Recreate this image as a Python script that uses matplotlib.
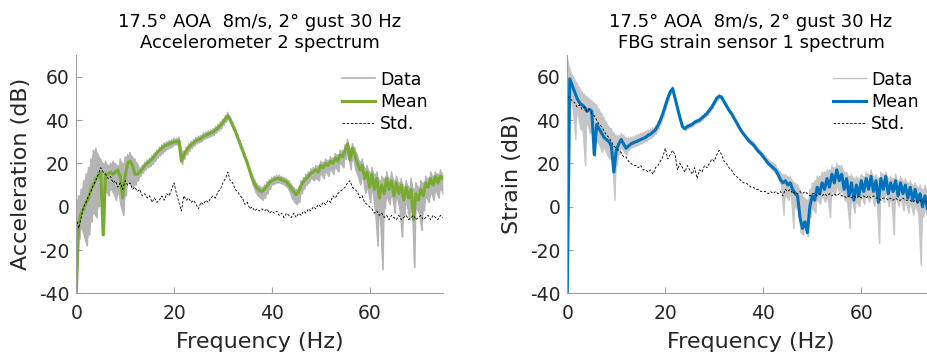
import numpy as np
import matplotlib
matplotlib.use("Agg")
import matplotlib.pyplot as plt

plt.rcParams["font.family"] = ["DejaVu Sans"]
plt.rcParams["axes.unicode_minus"] = False

# frequency grid, 0.5 Hz steps from 0 to 75 Hz
freq = np.arange(0, 75.5, 0.5)

# ---- accelerometer 2 (left panel), values in dB ----
acc_mean = [
    -40, -8, -3, -1, 2, 4, 8, 10, 13, 14,
    16, -13, 15, 15, 16, 15, 16, 17, 14, 4,
    14, 20, 21, 19, 15, 15, 16, 17.5, 19, 20,
    21, 22, 23.5, 25, 26, 27, 28, 28.5, 29, 29.5,
    30, 30, 30.5, 21, 24, 26, 27.5, 28.5, 29.5, 30.5,
    31, 31.5, 32.5, 33, 33.5, 34, 34.5, 35.5, 36.5, 37.5,
    39, 40.5, 42, 40, 37.5, 35, 32, 29, 26, 23,
    20, 16.5, 13, 10.5, 8.5, 7.5, 7, 8, 9.5, 11,
    12, 12.5, 13, 13, 12.5, 12, 11.5, 10, 8.5, 7,
    5.5, 7, 10, 11.5, 13, 14, 15.5, 16, 17, 16,
    19, 18, 20, 19, 21, 20, 22.5, 21, 24, 23,
    26, 29, 21.5, 27, 24, 20, 17, 19, 13, 16,
    9, 15, 8, 13, 4, 10, 6, 13, 8, 12,
    5, 11, 6, 10, 3, 9, 4, 8, -6, 6,
    3, 8, 5, 11, 9, 13, 10, 14, 11, 14,
    13,
]
acc_data_hi = [
    3, 5, 8, 12, 15, 18, 22, 26, 27, 24,
    22, 20, 21, 19, 20, 21, 20, 19, 22, 20,
    23, 24, 25, 23, 22, 20, 18, 19, 20.5, 21.5,
    22.5, 23.5, 24.5, 26, 27.5, 28.5, 29.5, 30, 30.5, 31,
    31.5, 31.5, 32, 26.5, 25.5, 27.5, 29, 30, 31, 32,
    32.5, 33, 34, 34.5, 35, 35.5, 36, 37, 38, 39,
    40.5, 42, 43.5, 41.5, 39, 36.5, 33.5, 30.5, 27.5, 24.5,
    21.5, 18, 15, 12.5, 10.5, 9.5, 9, 10, 11.5, 12.5,
    13.5, 14, 14.5, 14.5, 14, 13.5, 13, 12, 10.5, 9,
    8, 9, 12, 13.5, 15, 16, 17.5, 18, 19, 19,
    21, 20.5, 22, 21.5, 23, 22.5, 24.5, 24, 26, 26,
    28.5, 31, 27, 29, 27, 24, 21, 22, 18, 19,
    16, 18, 15, 16, 12, 14, 13, 16, 13, 16,
    12, 14, 11, 13, 9, 12, 9, 13, 8, 11,
    9, 12, 11, 14, 13, 16, 14, 16, 15, 17,
    15,
]
acc_data_lo = [
    -12, -15, -10, -14, -18, -13, -7, -3, -5, 0,
    4, -13, 7, 5, 8, 6, 3, 6, 0, -4,
    5, 11, 10, 9, 10, 12, 14, 15.5, 17, 18,
    18.5, 19.5, 21, 22.5, 23.5, 24.5, 25.5, 26.5, 27, 27.5,
    28.5, 28.5, 29, 19.5, 22, 24, 25.5, 27, 28, 29,
    29.5, 30, 31, 31.5, 32, 32.5, 33, 34, 35, 36,
    37.5, 39, 40.5, 38.5, 36, 33.5, 30.5, 27.5, 24.5, 21.5,
    18, 14, 10, 7, 5, 4, 3, 4, 6, 8,
    10, 10.5, 11, 11, 10.5, 10, 9, 7, 4, 2,
    1, 2, 6, 8, 10, 11, 13, 12, 13, 12,
    15, 13, 16, 14, 17, 15, 18, 16, 20, 18,
    22, 24, 17, 22, 17, 14, 10, 13, 6, 8,
    2, 7, -2, -18, -4, -29, -1, 4, 1, 5,
    -3, 4, -1, -14, -4, 1, -6, 2, -28, -1,
    -3, -11, -2, 4, 2, 6, 3, 7, 4, 8,
    5,
]
acc_std = [
    -5, -10, -5, 0, 2, 5, 7, 10, 12, 15,
    18, 16, 15, 13, 14, 11, 12, 9, 11, 8,
    12, 10, 11, 8, 9, 7, 8, 5, 6, 4,
    5, 2, 4, 2, 3, 5, 3, 6, 5, 8,
    11, 6, 2, -2, 5, 3, 4, 2, 3, 1,
    -1, 2, 1, 3, 2, 4, 5, 4, 7, 8,
    11, 13, 16, 12, 11, 8, 7, 5, 4, 1,
    2, -1, 0, -2, -1, -2, -1, -2, -1, -3,
    -2, -3, -2, -4, -3, -5, -3, -4, -5, -3,
    -5, -3, -4, -2, -3, -1, -2, 0, -1, 1,
    0, 2, 1, 3, 2, 5, 4, 6, 7, 8,
    9, 11, 12, 9, 8, 7, 4, 5, 2, 1,
    0, -1, -3, -2, -4, -3, -5, -4, -6, -4,
    -5, -6, -4, -6, -5, -4, -6, -5, -4, -6,
    -5, -4, -6, -5, -4, -6, -4, -5, -6, -4,
    -5,
]

# ---- FBG strain sensor 1 (right panel) ----
fbg_mean = [
    -40, 59, 56, 53, 50, 48, 47, 46, 44, 45,
    44, 24, 38, 36, 34, 32, 31, 30, 28, 16,
    26, 29, 31, 29, 27, 28, 29, 29.5, 30, 30.5,
    31, 31.5, 32, 33, 33.5, 34.5, 35.5, 37.5, 40, 43,
    46.5, 50, 53, 54.5, 50, 45.5, 41, 37, 36, 37,
    37.5, 38, 39, 39.5, 40, 41, 42, 43, 44.5, 46,
    48, 50, 51, 50.5, 48.5, 46.5, 44.5, 43, 41, 39,
    37, 35, 33.5, 32, 30.5, 29.5, 28.5, 27, 25.5, 24.5,
    23, 21.5, 20, 19, 18, 17, 15, 12.5, 11, 12,
    10, 11, 8, 6, 5, -5, -10, -7, -12, 0,
    5, 3, 9, 6, 11, 8, 13, 9, 15, 11,
    17, 12, 15, 8, 13, 5, 11, 3, 10, 5,
    12, 7, 13, 8, 14, 7, 12, 2, 13, 8,
    14, 6, 11, 7, 12, 5, 11, 6, 10, 4,
    9, 3, 8, 2, 6, 0, 5, -1, 4, 0,
    2,
]
fbg_data_hi = [
    69, 64, 61, 59, 57, 55, 53, 52, 51, 50,
    49, 48, 47, 45, 43, 41, 39, 37, 36, 34,
    33, 33, 34, 33, 32, 32, 32, 32.5, 33, 33.5,
    34, 34.5, 35, 35.5, 36, 36.5, 37.5, 39, 41, 44,
    47.5, 51, 54, 55.5, 51, 46.5, 42, 38, 37, 38,
    38.5, 39, 40, 40.5, 41, 42, 43, 44, 45.5, 47,
    49, 51, 52, 51.5, 49.5, 47.5, 45.5, 44, 42, 40,
    38, 36, 34.5, 33, 32, 31, 30, 28.5, 27, 26,
    24.5, 23.5, 22, 21, 20.5, 19.5, 17.5, 16, 15, 15,
    14, 14, 12, 11, 10, 8, 5, 4, 3, 8,
    11, 12, 14, 14, 16, 16, 17, 17, 19, 18,
    20, 19, 19, 16, 16, 14, 15, 13, 14, 13,
    15, 14, 16, 15, 17, 14, 15, 13, 16, 15,
    16, 13, 14, 13, 15, 12, 14, 12, 13, 11,
    12, 10, 11, 9, 10, 8, 10, 8, 9, 8,
    8,
]
fbg_data_lo = [
    55, 50, 45, 31, 43, 36, 35, 19, 38, 34,
    34, 23, 30, 28, 25, 27, 24, 22, 22, 3,
    19, 24, 27, 25, 24, 26, 27, 27.5, 28, 28.5,
    29, 29.5, 30, 31, 31.5, 32.5, 33.5, 35.5, 38, 41,
    45, 48.5, 52, 53, 49, 44.5, 40, 36, 35, 36,
    36.5, 37, 38, 38.5, 39, 40, 41, 42, 43.5, 45,
    47, 49, 50, 49.5, 47.5, 45.5, 43.5, 42, 40, 38,
    36, 34, 32.5, 31, 29.5, 28.5, 27.5, 26, 24.5, 23.5,
    22, 20.5, 19, 17.5, 16.5, 15, 13, 10, -4, 5,
    3, 5, -10, 0, -2, -12, -13, -9, -14, -5,
    -1, -3, 3, 1, 5, 2, 4, -5, 7, 5,
    9, 6, 7, 3, 2, -10, 3, -3, 2, 0,
    4, 1, 5, 2, 6, 0, 3, -17, 5, 2,
    6, 0, 3, -13, 4, 0, 3, -2, 2, -3,
    1, -4, 0, -3, -27, -5, -2, -6, -3, -5,
    -4,
]
fbg_std = [
    51, 50, 49, 48, 46, 47, 45, 46, 44, 45,
    43, 42, 40, 38, 37, 35, 33, 32, 30, 28,
    27, 26, 25, 23, 23, 21, 20, 19, 19, 18,
    19, 17, 17, 16, 17, 15, 18, 19, 21, 23,
    27, 22, 24, 26, 24, 17, 20, 18, 16, 19,
    17, 15, 18, 13, 17, 16, 19, 18, 20, 22,
    21, 24, 26, 24, 21, 20, 18, 17, 15, 14,
    13, 12, 11, 11, 10, 9, 9, 8, 8, 7,
    7, 7, 6, 7, 6, 7, 6, 7, 5, 8,
    7, 8, 6, 7, 6, 7, 6, 7, 6, 5,
    6, 6, 5, 6, 5, 6, 5, 6, 5, 6,
    5, 6, 5, 5, 4, 5, 4, 5, 4, 5,
    4, 5, 4, 5, 4, 5, 4, 4, 3, 4,
    4, 3, 4, 3, 4, 3, 3, 4, 3, 3,
    3, 2, 3, 2, 3, 2, 3, 2, 2, 3,
    2,
]

title_top = "17.5° AOA  8m/s, 2° gust 30 Hz"
x_ticks = [0, 20, 40, 60]
y_ticks = [-40, -20, 0, 20, 40, 60]

panels = [
    dict(pos=[0.0822, 0.169, 0.395, 0.675], mean=acc_mean, hi=acc_data_hi, lo=acc_data_lo,
         std=acc_std, color="#77AC30", data_color="#b4b4b4", data_lw=1.2,
         title=title_top + "\nAccelerometer 2 spectrum", ylabel="Acceleration (dB)", leg_x=0.725),
    dict(pos=[0.6113, 0.169, 0.396, 0.675], mean=fbg_mean, hi=fbg_data_hi, lo=fbg_data_lo,
         std=fbg_std, color="#0072BD", data_color="#c6c6c6", data_lw=1.0,
         title=title_top + "\nFBG strain sensor 1 spectrum", ylabel="Strain (dB)", leg_x=0.723),
]

fig = plt.figure(figsize=(9.28, 3.53), dpi=100)

for p in panels:
    ax = fig.add_axes(p["pos"])
    # the many measured traces show up as a band: fill it, then zig-zag between its edges
    ax.fill_between(freq, p["lo"], p["hi"], color=p["data_color"], lw=0)
    xd = np.column_stack([freq, freq + 0.25]).ravel()
    yd = np.column_stack([p["hi"], p["lo"]]).ravel()
    ax.plot(xd, yd, color=p["data_color"], lw=p["data_lw"], label="Data")
    ax.plot(freq, p["mean"], color=p["color"], lw=2.2, label="Mean")
    ax.plot(freq, p["std"], color="black", lw=0.6, ls=(0, (3, 2)), label="Std.")

    ax.set_xlim(0, 75)
    ax.set_ylim(-40, 70)
    ax.set_xticks(x_ticks)
    ax.set_yticks(y_ticks)
    for s in ["top", "right"]:
        ax.spines[s].set_visible(False)
    for s in ["left", "bottom"]:
        ax.spines[s].set_color("#a0a0a0")
        ax.spines[s].set_linewidth(0.8)
    ax.tick_params(direction="in", length=4, width=0.8, color="#a0a0a0",
                   labelsize=13.5, labelcolor="#262626")
    ax.tick_params(axis="x", pad=8)
    ax.tick_params(axis="y", pad=5)
    ax.set_xlabel("Frequency (Hz)", fontsize=16, color="#262626", labelpad=6)
    ax.set_ylabel(p["ylabel"], fontsize=16, color="#262626", labelpad=6)
    ax.set_title(p["title"], fontsize=13, pad=5, linespacing=1.25)

    ax.legend(loc="upper left", bbox_to_anchor=(p["leg_x"], 0.935), frameon=False,
              fontsize=12.5, handlelength=1.9, handletextpad=0.3, labelspacing=0.24,
              borderpad=0, borderaxespad=0)

fig.savefig("out.png", dpi=100)
